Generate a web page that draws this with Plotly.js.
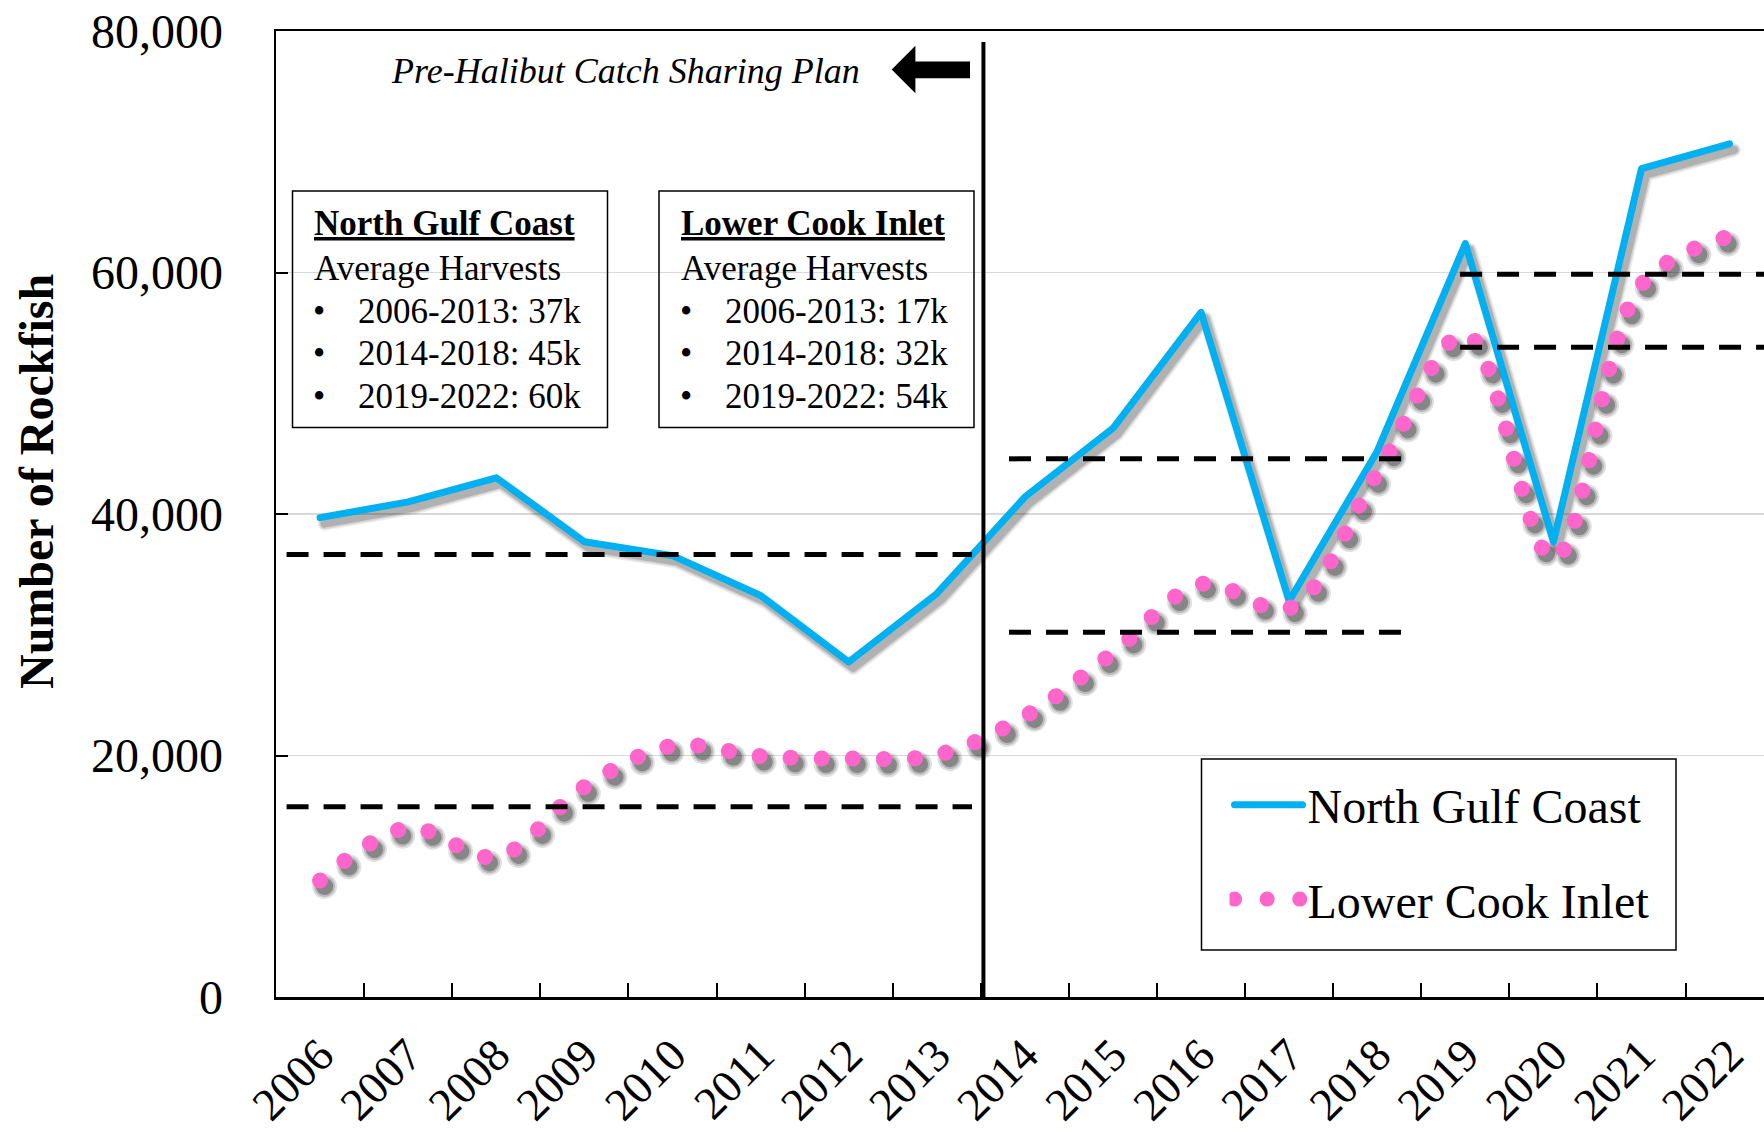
<!DOCTYPE html>
<html>
<head>
<meta charset="utf-8">
<script src="https://cdn.plot.ly/plotly-3.0.1.min.js"></script>
<style>
html, body { margin:0; padding:0; background:#fff; overflow:hidden; }
#chart { width:1764px; height:1132px; }
.js-line { stroke-linecap: round !important; stroke-linejoin: round !important; }
</style>
</head>
<body>
<div id="chart"></div>
<script>
// ---------------- data ----------------
const years = ['2006','2007','2008','2009','2010','2011','2012','2013','2014',
               '2015','2016','2017','2018','2019','2020','2021','2022'];
const northGulfCoast = [39700, 41000, 43000, 37700, 36550, 33250, 27750, 33400, 41400,
                        47100, 56700, 32800, 45200, 62400, 37700, 68600, 70650];
const lowerCookInlet = [9650, 14000, 11600, 17400, 20800, 19950, 19750, 20050, 23250,
                        28500, 34200, 32200, 43400, 54900, 36300, 59000, 63000];
const periods = ['2006-2013', '2014-2018', '2019-2022'];
const ngcAverageLabels = ['37k', '45k', '60k'];
const lciAverageLabels = ['17k', '32k', '54k'];
const ngcAverageLines = [36640, 44570, 59860];
const lciAverageLines = [15760, 30210, 53800];
const yTickVals = [0, 20000, 40000, 60000, 80000];
const seriesNames = ['North Gulf Coast', 'Lower Cook Inlet'];
const yAxisTitle = 'Number of Rockfish';
const planLabel = 'Pre-Halibut Catch Sharing Plan';
const boxSubtitle = 'Average Harvests';

// ---------------- layout helpers ----------------
const FONT = 'Liberation Serif, Times New Roman, serif';
const M = {l: 276, r: 0, t: 31, b: 135};
const W = 1764, H = 1132;
const L = M.l, R = W - M.r, T = M.t, B = H - M.b;
const px = p => (p - L) / (R - L);
const py = p => (B - p) / (B - T);

const X_RANGE = [-0.5, 16.39];
const Y_RANGE = [0, 80000];
const catPx = (R - L) / (X_RANGE[1] - X_RANGE[0]);
const valPerPx = (Y_RANGE[1] - Y_RANGE[0]) / (B - T);
// drop-shadow offset (px): shadows live on the base axis pair, shifted by range
const SDX = 4.5, SDY = 6;
const XS_RANGE = [X_RANGE[0] - SDX / catPx, X_RANGE[1] - SDX / catPx];
const YS_RANGE = [Y_RANGE[0] + SDY * valPerPx, Y_RANGE[1] + SDY * valPerPx];

// period extents on the category axis (index units)
const periodX = [[-0.38, 7.40], [7.82, 12.29], [12.94, 16.6]];

const LCI_DASH = '0.1px,31px';
const traces = [];
// layered soft shadows (base axes x/y, drawn beneath)
[[14, 0.07], [11, 0.11], [8, 0.16]].forEach(s => {
  traces.push({type: 'scatter', mode: 'lines', x: years, y: northGulfCoast, xaxis: 'x', yaxis: 'y',
    showlegend: false, hoverinfo: 'skip', line: {color: 'rgba(0,0,0,' + s[1] + ')', width: s[0]}});
});
[[25, 0.12], [21, 0.17], [17, 0.28]].forEach(s => {
  traces.push({type: 'scatter', mode: 'lines', x: years, y: lowerCookInlet, xaxis: 'x', yaxis: 'y',
    showlegend: false, hoverinfo: 'skip',
    line: {color: 'rgba(0,0,0,' + s[1] + ')', width: s[0], shape: 'spline', smoothing: 1, dash: LCI_DASH}});
});
// main series (overlay axes x2/y2 with the true scale)
traces.push({
  type: 'scatter', mode: 'lines', x: years, y: northGulfCoast, name: seriesNames[0],
  xaxis: 'x2', yaxis: 'y2',
  line: {color: '#00b0f0', width: 7}, legendgroup: 'a', hoverinfo: 'x+y'
});
traces.push({
  type: 'scatter', mode: 'lines', x: years, y: lowerCookInlet, name: seriesNames[1],
  xaxis: 'x2', yaxis: 'y2',
  line: {color: '#ff66cc', width: 16, shape: 'spline', smoothing: 1, dash: LCI_DASH},
  legendgroup: 'b', hoverinfo: 'x+y'
});

const shapes = [];
[ngcAverageLines, lciAverageLines].forEach(arr => {
  arr.forEach((v, i) => {
    shapes.push({type: 'line', xref: 'x2', yref: 'y2', x0: periodX[i][0], x1: periodX[i][1],
      y0: v, y1: v, line: {color: '#000', width: 5, dash: '22px,15px'}});
  });
});
shapes.push({type: 'line', xref: 'x2', yref: 'paper', x0: 7.53, x1: 7.53, y0: 0, y1: py(42),
  line: {color: '#000', width: 4}});
shapes.push({type: 'path', xref: 'paper', yref: 'paper', fillcolor: '#000', line: {width: 0},
  path: `M${px(891.7)},${py(69.5)} L${px(915.4)},${py(45.8)} L${px(915.4)},${py(61.6)} ` +
        `L${px(970)},${py(61.6)} L${px(970)},${py(78.2)} L${px(915.4)},${py(78.2)} ` +
        `L${px(915.4)},${py(93.2)} Z`});
[[292.5, 607.5], [659, 974]].forEach(b => {
  shapes.push({type: 'rect', xref: 'paper', yref: 'paper', x0: px(b[0]), x1: px(b[1]),
    y0: py(427.5), y1: py(191), line: {color: '#000', width: 1.5}, fillcolor: 'rgba(255,255,255,0)'});
});
shapes.push({type: 'rect', xref: 'paper', yref: 'paper', x0: px(1201.5), x1: px(1676),
  y0: py(950), y1: py(759), line: {color: '#000', width: 1.5}, fillcolor: 'rgba(255,255,255,0)'});

const annotations = [];
const txt = (text, x, y, opts) => Object.assign({
  text: text, xref: 'paper', yref: 'paper', x: px(x), y: py(y), xanchor: 'left', yanchor: 'middle',
  showarrow: false, font: {family: FONT, size: 35, color: '#000'}
}, opts || {});

annotations.push(txt('<i>' + planLabel + '</i>', 625.5, 71, {xanchor: 'center', font: {family: FONT, size: 36, color: '#000'}}));
annotations.push(txt('<b>' + yAxisTitle + '</b>', 36, 482, {xanchor: 'center', textangle: -90,
  font: {family: FONT, size: 48, color: '#000'}}));

const boxes = [
  {left: 312, title: seriesNames[0], labels: ngcAverageLabels},
  {left: 678.5, title: seriesNames[1], labels: lciAverageLabels}
];
const rowY = [311.7, 353.5, 396.7];
boxes.forEach(bx => {
  annotations.push(txt('<b><u>' + bx.title + '</u></b>', bx.left, 224));
  annotations.push(txt(boxSubtitle, bx.left, 268));
  bx.labels.forEach((lab, i) => {
    annotations.push(txt('•', bx.left + 7, rowY[i], {xanchor: 'center'}));
    annotations.push(txt(periods[i] + ': ' + lab, bx.left + 44, rowY[i]));
  });
});

const layout = {
  width: W, height: H, autosize: false,
  margin: {l: M.l, r: M.r, t: M.t, b: M.b, pad: 0},
  paper_bgcolor: '#fff', plot_bgcolor: '#fff',
  font: {family: FONT, color: '#000'},
  showlegend: true,
  legend: {
    x: px(1229.5), y: py(767), xanchor: 'left', yanchor: 'top',
    bgcolor: 'rgba(0,0,0,0)', borderwidth: 0,
    font: {family: FONT, size: 48, color: '#000'},
    itemwidth: 68, tracegroupgap: 29, traceorder: 'grouped'
  },
  // base pair: shadow layer only (hidden)
  xaxis: {
    type: 'category', categoryorder: 'array', categoryarray: years,
    range: XS_RANGE, visible: false, fixedrange: true, showgrid: false, zeroline: false
  },
  yaxis: {
    range: YS_RANGE, visible: false, fixedrange: true, showgrid: false, zeroline: false
  },
  // overlay pair: true scale, visible axes
  xaxis2: {
    type: 'category', categoryorder: 'array', categoryarray: years,
    overlaying: 'x', anchor: 'y2', side: 'bottom',
    range: X_RANGE, fixedrange: true,
    showline: true, linecolor: '#000', linewidth: 2.5, mirror: true,
    showgrid: false, zeroline: false,
    ticks: 'inside', tickson: 'boundaries', ticklen: 14, tickwidth: 2, tickcolor: '#000',
    tickangle: -45, tickfont: {family: FONT, size: 46, color: '#000'},
    ticklabelstandoff: 10
  },
  yaxis2: {
    overlaying: 'y', anchor: 'x2', side: 'left',
    range: Y_RANGE, fixedrange: true,
    tickvals: yTickVals, tickformat: ',',
    showline: true, linecolor: '#000', linewidth: 2.5,
    showgrid: true, gridcolor: '#d9d9d9', gridwidth: 1.5, zeroline: false,
    ticks: 'inside', ticklen: 12, tickwidth: 2, tickcolor: '#000',
    tickfont: {family: FONT, size: 48, color: '#000'},
    ticklabelstandoff: 41
  },
  shapes: shapes,
  annotations: annotations
};

Plotly.newPlot('chart', traces, layout, {displayModeBar: false, staticPlot: true}).then(gd => {
  const legLines = gd.querySelectorAll('.legend .traces .js-line');
  legLines.forEach(el => {
    const sw = parseFloat(el.style.strokeWidth);
    if (sw >= 8 || el.style.strokeDasharray) {
      el.style.strokeWidth = '15px'; el.style.strokeDasharray = '0.1px,32.5px';
    } else {
      el.style.strokeWidth = '7px';
    }
  });
});
</script>
</body>
</html>
